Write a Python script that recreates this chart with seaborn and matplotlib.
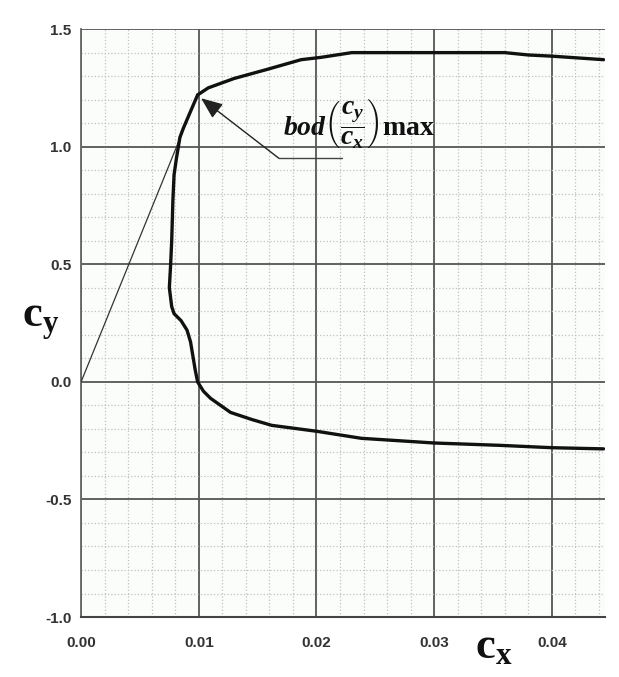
import numpy as np
import pandas as pd
import matplotlib
matplotlib.use('Agg')
import matplotlib.pyplot as plt
from matplotlib.ticker import MultipleLocator
import seaborn as sns

sns.set_theme(style="white")
plt.rcParams['mathtext.fontset'] = 'custom'
plt.rcParams['mathtext.rm'] = 'Liberation Serif:bold'
plt.rcParams['mathtext.bf'] = 'Liberation Serif:bold'
plt.rcParams['mathtext.it'] = 'Liberation Serif:italic:bold'

# polar curve of the airfoil: upper branch (from max glide point to the right)
upper_cx = [0.0099, 0.0108, 0.0130, 0.0159, 0.0187, 0.0204, 0.0230, 0.0300,
            0.0360, 0.0380, 0.0400, 0.0444]
upper_cy = [1.22, 1.25, 1.29, 1.33, 1.37, 1.38, 1.40, 1.40,
            1.40, 1.39, 1.385, 1.37]

# lower branch (from max glide point down to negative lift)
lower_cx = [0.0099, 0.0093, 0.0087, 0.0084, 0.0081, 0.0079, 0.0078, 0.0077,
            0.0076, 0.0075, 0.0077, 0.0079, 0.0085, 0.0090, 0.0093, 0.0095,
            0.0097, 0.0099, 0.0104, 0.0110, 0.0127, 0.0145, 0.0162, 0.0200,
            0.0238, 0.0300, 0.0356, 0.0400, 0.0444]
lower_cy = [1.22, 1.15, 1.08, 1.04, 0.95, 0.88, 0.77, 0.60,
            0.49, 0.40, 0.32, 0.29, 0.26, 0.22, 0.17, 0.11,
            0.05, 0.00, -0.04, -0.07, -0.13, -0.16, -0.185, -0.21,
            -0.24, -0.26, -0.27, -0.28, -0.285]

# tangent from origin to the point of max cy/cx
tangent_cx = [0.0, 0.0099]
tangent_cy = [0.0, 1.22]

# annotation arrow: tip, elbow, end of leader
arrow_tip = (0.0102, 1.206)
arrow_elbow = (0.0168, 0.951)
arrow_end = (0.0222, 0.951)

xticks = [0.00, 0.01, 0.02, 0.03, 0.04]
xtick_labels = ['0.00', '0.01', '0.02', '0.03', '0.04']
yticks = [-1.0, -0.5, 0.0, 0.5, 1.0, 1.5]
ytick_labels = ['-1.0', '-0.5', '0.0', '0.5', '1.0', '1.5']

upper = pd.DataFrame({'cx': upper_cx, 'cy': upper_cy})
lower = pd.DataFrame({'cx': lower_cx, 'cy': lower_cy})

fig = plt.figure(figsize=(6.19, 6.77), dpi=100)
fig.patch.set_facecolor('white')
ax = fig.add_axes([0.131, 0.0886, 0.846, 0.8684])
ax.set_facecolor('#fbfdfb')

ax.set_xlim(0, 0.0445)
ax.set_ylim(-1.0, 1.5)
ax.xaxis.set_major_locator(MultipleLocator(0.01))
ax.xaxis.set_minor_locator(MultipleLocator(0.002))
ax.yaxis.set_major_locator(MultipleLocator(0.5))
ax.yaxis.set_minor_locator(MultipleLocator(0.1))
ax.grid(which='minor', color='#bfc2bf', linestyle=':', linewidth=0.9)
ax.grid(which='major', color='#555555', linestyle='-', linewidth=1.3)
ax.set_axisbelow(True)

ax.plot(tangent_cx, tangent_cy, color='#333333', linewidth=0.9, zorder=3)
sns.lineplot(data=upper, x='cx', y='cy', sort=False, estimator=None,
             color='#111111', linewidth=2.4, ax=ax, zorder=4)
sns.lineplot(data=lower, x='cx', y='cy', sort=False, estimator=None,
             color='#111111', linewidth=2.4, ax=ax, zorder=4)

# leader line + filled arrow head
ax.plot([arrow_end[0], arrow_elbow[0]], [arrow_end[1], arrow_elbow[1]],
        color='#444444', linewidth=1.0, zorder=3)
ax.annotate('', xy=arrow_tip, xytext=arrow_elbow,
            arrowprops=dict(arrowstyle='-|>,head_length=1.1,head_width=0.45',
                            color='#222222', lw=1.0, shrinkA=0, shrinkB=0),
            zorder=5)
ax.text(0.0172, 1.10, r'$bod\left(\dfrac{c_y}{c_x}\right)\mathrm{max}$',
        fontsize=20, ha='left', va='center', color='#111111', zorder=6)

ax.set_xticks(xticks)
ax.set_xticklabels(xtick_labels)
ax.set_yticks(yticks)
ax.set_yticklabels(ytick_labels)
ax.tick_params(axis='both', which='both', length=0, labelsize=11, colors='#333333')
ax.tick_params(axis='x', pad=14)
ax.tick_params(axis='y', pad=7)
for lab in ax.get_xticklabels() + ax.get_yticklabels():
    lab.set_fontweight('bold')
    lab.set_family('Liberation Sans')

ax.set_xlabel('')
ax.set_ylabel('')
fig.text(475 / 619, 1 - 645 / 677, r'$\mathrm{c}_{\mathrm{x}}$', fontsize=32,
         ha='left', va='center', color='#111111')
fig.text(22 / 619, 1 - 320 / 677, r'$\mathrm{c}_{\mathrm{y}}$', fontsize=32,
         ha='left', va='center', color='#111111')

for side in ['top', 'right']:
    ax.spines[side].set_visible(False)
ax.spines['left'].set_color('#666666')
ax.spines['left'].set_linewidth(1.3)
ax.spines['bottom'].set_color('#444444')
ax.spines['bottom'].set_linewidth(1.5)

plt.savefig('out.png', dpi=100)
plt.close()
